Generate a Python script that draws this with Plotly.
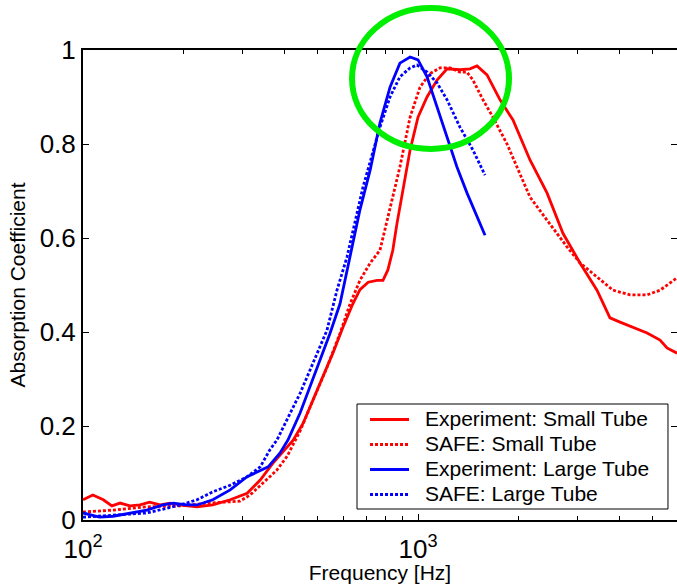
import plotly.graph_objects as go

# ---- data ----
exp_small_f = [100, 107, 115, 122, 129, 138, 148, 158, 170, 182, 199, 219, 244, 275, 309, 338, 369, 407, 424,
               454, 486, 520, 557, 597, 639, 671, 710, 755, 786, 813, 841, 865, 902, 947, 1000, 1064, 1140,
               1221, 1334, 1429, 1500, 1607, 1757, 1921, 2159, 2427, 2708, 3045, 3422, 3741, 4009, 4829,
               5278, 5537, 5932]
exp_small_a = [0.043, 0.053, 0.043, 0.030, 0.036, 0.030, 0.032, 0.038, 0.032, 0.036, 0.031, 0.028, 0.032,
               0.043, 0.057, 0.085, 0.121, 0.155, 0.170, 0.206, 0.255, 0.305, 0.355, 0.41, 0.46, 0.49, 0.506,
               0.51, 0.51, 0.532, 0.574, 0.63, 0.70, 0.787, 0.857, 0.90, 0.936, 0.96, 0.958, 0.96, 0.966,
               0.947, 0.894, 0.851, 0.766, 0.696, 0.61, 0.547, 0.489, 0.43, 0.421, 0.398, 0.383, 0.366, 0.355]

safe_small_f = [100, 123, 155, 195, 235, 294, 315, 344, 379, 407, 445, 486, 535, 585, 627, 671, 720, 770,
                825, 883, 947, 1014, 1086, 1163, 1246, 1334, 1400, 1459, 1563, 1674, 1844, 2016, 2159, 2427,
                2785, 3045, 3422, 3819, 4295, 4829, 5278, 5932]
safe_small_a = [0.017, 0.021, 0.028, 0.030, 0.036, 0.040, 0.053, 0.079, 0.106, 0.136, 0.19, 0.255, 0.325,
                0.397, 0.46, 0.51, 0.547, 0.574, 0.66, 0.751, 0.857, 0.921, 0.95, 0.962, 0.962, 0.953, 0.953,
                0.936, 0.894, 0.857, 0.80, 0.735, 0.687, 0.638, 0.581, 0.547, 0.517, 0.489, 0.479, 0.479,
                0.489, 0.515]

exp_large_f = [100, 112, 123, 138, 155, 173, 186, 204, 219, 244, 275, 309, 338, 357, 387, 409, 445, 476, 510,
               546, 585, 614, 640, 671, 720, 770, 825, 883, 947, 1000, 1064, 1140, 1221, 1307, 1400, 1500, 1585]
exp_large_a = [0.015, 0.006, 0.008, 0.015, 0.021, 0.032, 0.036, 0.032, 0.032, 0.043, 0.064, 0.092, 0.106,
               0.113, 0.142, 0.17, 0.228, 0.283, 0.34, 0.397, 0.46, 0.53, 0.59, 0.66, 0.745, 0.845, 0.921,
               0.972, 0.985, 0.979, 0.943, 0.879, 0.815, 0.751, 0.696, 0.645, 0.606]

safe_large_f = [100, 123, 155, 178, 195, 219, 244, 275, 309, 338, 361, 379, 407, 445, 486, 535, 573, 614, 685,
                770, 825, 883, 947, 993, 1064, 1140, 1221, 1334, 1459, 1585]
safe_large_a = [0.006, 0.010, 0.015, 0.025, 0.032, 0.043, 0.060, 0.074, 0.092, 0.113, 0.149, 0.17, 0.213,
                0.27, 0.334, 0.404, 0.489, 0.56, 0.708, 0.836, 0.90, 0.943, 0.962, 0.968, 0.953, 0.93,
                0.894, 0.836, 0.787, 0.734]

series_names = ["Experiment: Small Tube", "SAFE: Small Tube", "Experiment: Large Tube", "SAFE: Large Tube"]
series_colors = ["#ff0000", "#ff0000", "#0000ff", "#0000ff"]
series_dash = ["solid", "3px,2px", "solid", "3px,2px"]

x_major = [100, 1000]
x_major_text = ["10<sup>2</sup>", "10<sup>3</sup>"]
x_minor = [200, 300, 400, 500, 600, 700, 800, 900, 2000, 3000, 4000, 5000]
y_ticks = [0, 0.2, 0.4, 0.6, 0.8, 1]
y_text = ["0", "0.2", "0.4", "0.6", "0.8", "1"]

FONT = "Liberation Sans, Arial, sans-serif"

fig = go.Figure()
all_f = [exp_small_f, safe_small_f, exp_large_f, safe_large_f]
all_a = [exp_small_a, safe_small_a, exp_large_a, safe_large_a]
for f, a, nm, c, d in zip(all_f, all_a, series_names, series_colors, series_dash):
    fig.add_trace(go.Scatter(x=f, y=a, mode="lines", name=nm, showlegend=False,
                             line=dict(color=c, width=2.8, dash=d)))

# green highlight ellipse
fig.add_shape(type="circle", xref="paper", yref="paper",
              x0=0.4529, x1=0.7172, y0=0.7894, y1=1.0894,
              line=dict(color="#00ee00", width=6))

# legend box (MATLAB style) built from the series names/styles
fig.add_shape(type="rect", xref="paper", yref="paper",
              x0=0.4613, x1=0.9848, y0=0.0234, y1=0.2468,
              line=dict(color="black", width=1), fillcolor="white", layer="above")
row_y = [0.2138, 0.1606, 0.1074, 0.0543]
for ry, nm, c, d in zip(row_y, series_names, series_colors, series_dash):
    fig.add_shape(type="line", xref="paper", yref="paper",
                  x0=0.4832, x1=0.5488, y0=ry, y1=ry,
                  line=dict(color=c, width=2.8, dash=d), layer="above")
    fig.add_annotation(xref="paper", yref="paper", x=0.5724, y=ry + 0.002,
                       xanchor="left", yanchor="middle", showarrow=False,
                       text=nm, font=dict(family=FONT, size=21, color="black"))

fig.update_layout(
    width=677, height=584,
    margin=dict(l=83, r=0, t=50, b=64),
    paper_bgcolor="white", plot_bgcolor="white",
    font=dict(family=FONT, color="black", size=20),
    showlegend=False,
    xaxis=dict(type="log", range=[2, 3.7731], tickmode="array", tickvals=x_major, ticktext=x_major_text,
               ticks="inside", ticklen=6, tickwidth=1, tickcolor="black",
               showline=True, linecolor="black", linewidth=2, mirror="ticks",
               showgrid=False, zeroline=False, ticklabelstandoff=5,
               tickfont=dict(family=FONT, size=26, color="black"),
               minor=dict(tickmode="array", tickvals=x_minor, ticks="inside", ticklen=4,
                          tickcolor="black", showgrid=False),
               title=dict(text="Frequency [Hz]", font=dict(family=FONT, size=21, color="black"), standoff=0),
               automargin=False),
    yaxis=dict(range=[0, 1], tickmode="array", tickvals=y_ticks, ticktext=y_text,
               ticks="inside", ticklen=6, tickwidth=1, tickcolor="black",
               showline=True, linecolor="black", linewidth=2, mirror="ticks",
               showgrid=False, zeroline=False,
               tickfont=dict(family=FONT, size=26, color="black"),
               title=dict(text="Absorption Coefficient", font=dict(family=FONT, size=21, color="black"),
                          standoff=8),
               automargin=False),
)

fig.write_html("out.html", config={"displayModeBar": False},
               post_script="document.body.style.margin='0px';document.body.style.overflow='hidden';")
